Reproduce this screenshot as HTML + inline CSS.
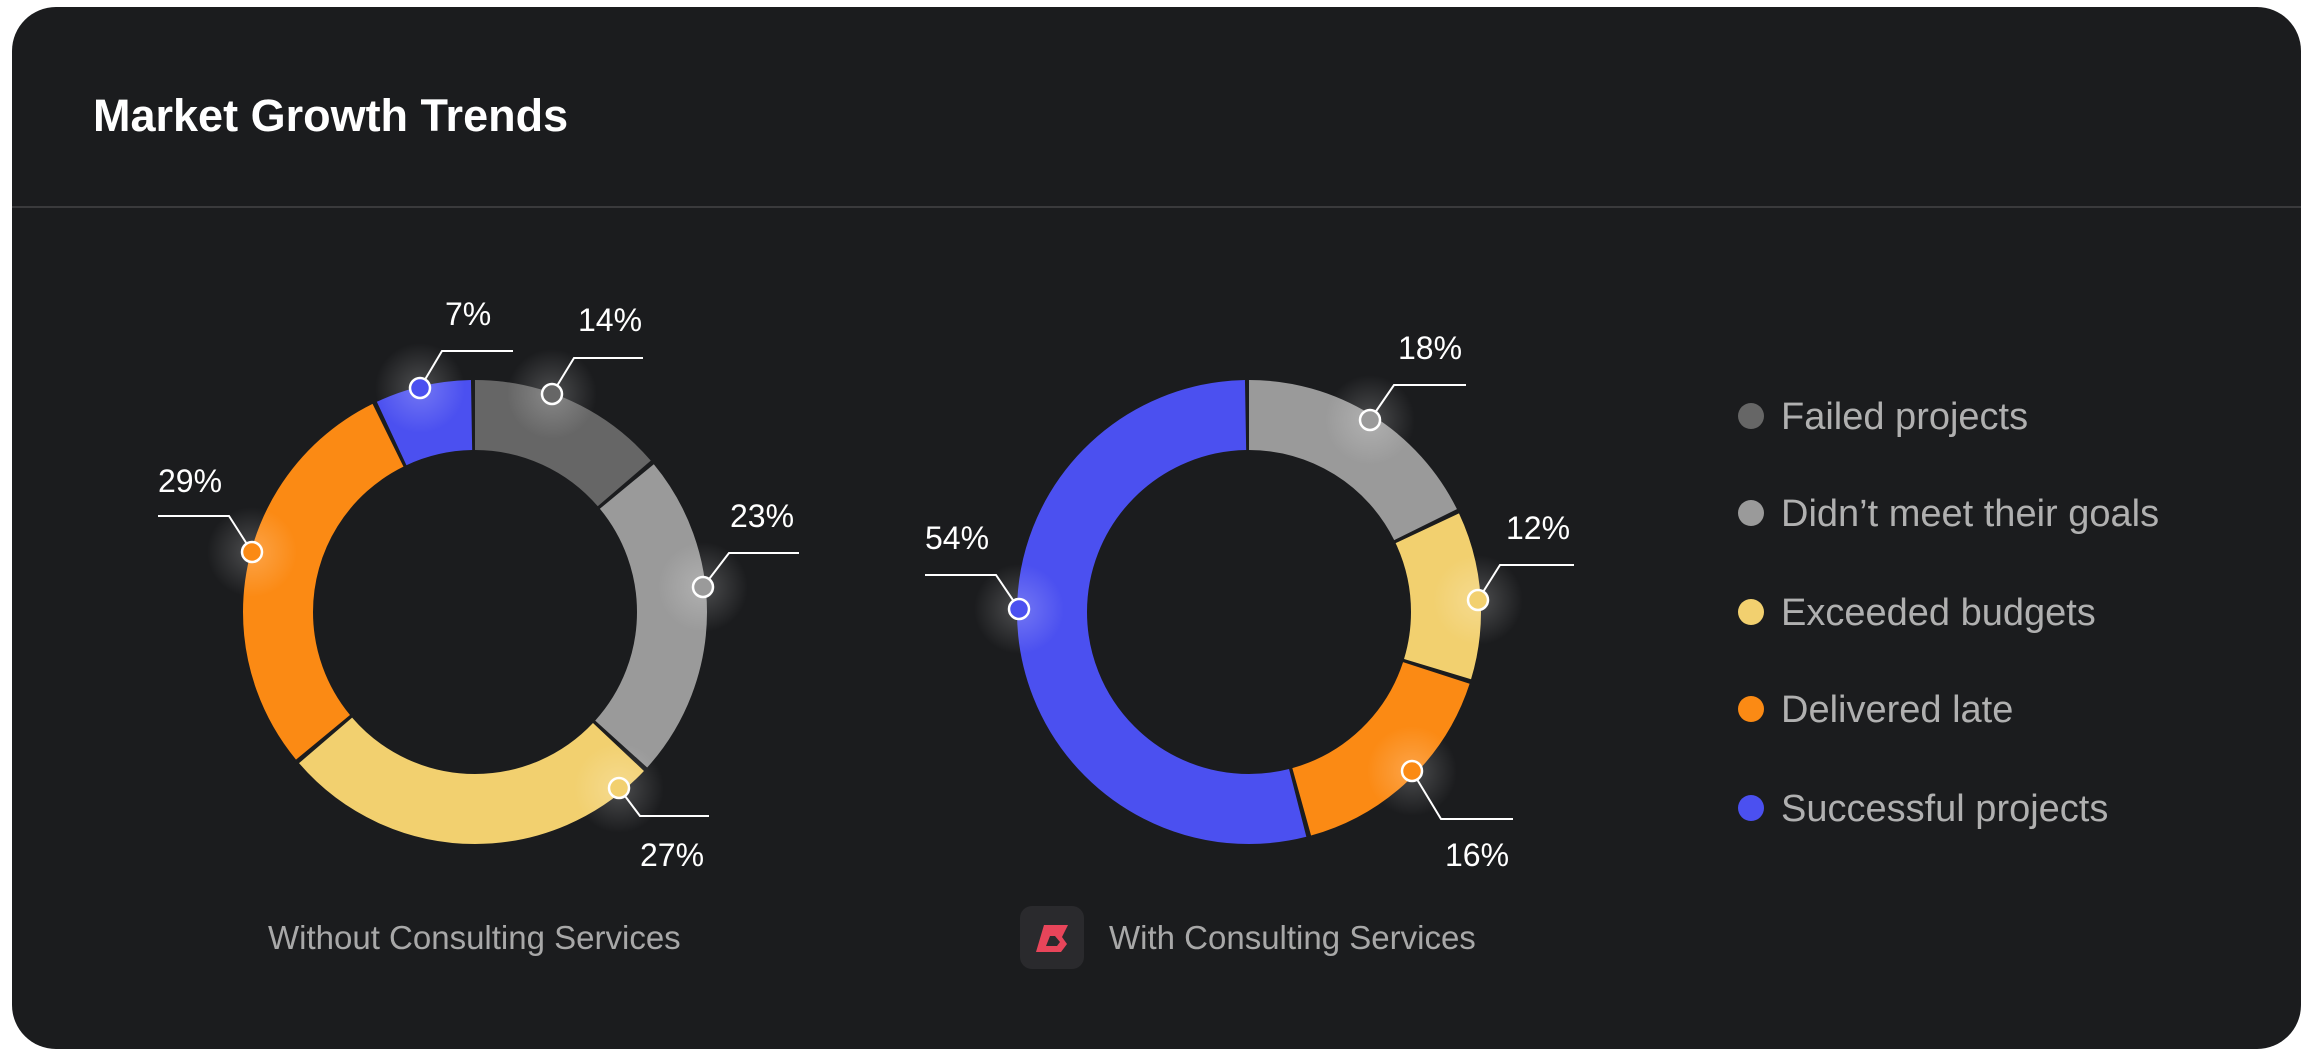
<!DOCTYPE html>
<html><head><meta charset="utf-8"><style>
html,body{margin:0;padding:0;background:#fff;width:2312px;height:1064px;overflow:hidden}
svg{display:block}
text{font-family:"Liberation Sans",sans-serif}
</style></head><body>
<svg width="2312" height="1064" viewBox="0 0 2312 1064" xmlns="http://www.w3.org/2000/svg">
<defs>
<radialGradient id="glow"><stop offset="0" stop-color="#fff" stop-opacity="0.22"/><stop offset="1" stop-color="#fff" stop-opacity="0"/></radialGradient>
</defs>
<rect x="0" y="0" width="2312" height="1064" fill="#ffffff"/>
<rect x="12" y="7" width="2289" height="1042" rx="44" fill="#1b1c1e"/>
<text x="93" y="131" font-size="45" font-weight="bold" fill="#ffffff">Market Growth Trends</text>
<rect x="12" y="206" width="2289" height="2" fill="#3a3a3c"/>

<g transform="translate(475,612) rotate(-90)" fill="none" stroke-width="70">
<circle r="197" stroke="#666666" stroke-dasharray="169.3 2000" stroke-dashoffset="0"/>
<circle r="197" stroke="#9a9a9a" stroke-dasharray="280.7 2000" stroke-dashoffset="-173.3"/>
<circle r="197" stroke="#f2d06f" stroke-dasharray="330.2 2000" stroke-dashoffset="-458.0"/>
<circle r="197" stroke="#fb8a14" stroke-dasharray="355.0 2000" stroke-dashoffset="-792.2"/>
<circle r="197" stroke="#4b50f0" stroke-dasharray="82.6 2000" stroke-dashoffset="-1151.2"/>
</g>
<g transform="translate(1249,612) rotate(-90)" fill="none" stroke-width="70">
<circle r="197" stroke="#9a9a9a" stroke-dasharray="218.8 2000" stroke-dashoffset="0"/>
<circle r="197" stroke="#f2d06f" stroke-dasharray="144.5 2000" stroke-dashoffset="-222.8"/>
<circle r="197" stroke="#fb8a14" stroke-dasharray="194.0 2000" stroke-dashoffset="-371.3"/>
<circle r="197" stroke="#4b50f0" stroke-dasharray="664.4 2000" stroke-dashoffset="-569.4"/>
</g>

<g fill="url(#glow)">
<circle cx="420" cy="388" r="45"/><circle cx="552" cy="394" r="45"/><circle cx="703" cy="587" r="45"/>
<circle cx="619" cy="788" r="45"/><circle cx="252" cy="552" r="45"/>
<circle cx="1370" cy="420" r="45"/><circle cx="1478" cy="600" r="45"/><circle cx="1412" cy="771" r="45"/><circle cx="1019" cy="609" r="45"/>
</g>

<g fill="none" stroke="#ffffff" stroke-width="2">
<polyline points="420,388 442,351 513,351"/>
<polyline points="552,394 574,358 643,358"/>
<polyline points="703,587 729,553 799,553"/>
<polyline points="619,788 640,816 709,816"/>
<polyline points="252,552 229,516 158,516"/>
<polyline points="1370,420 1394,385 1466,385"/>
<polyline points="1478,600 1500,565 1574,565"/>
<polyline points="1412,771 1441,819 1513,819"/>
<polyline points="1019,609 996,575 925,575"/>
</g>
<g stroke="#ffffff" stroke-width="2.5">
<circle cx="420" cy="388" r="10" fill="#4b50f0"/>
<circle cx="552" cy="394" r="10" fill="#666666"/>
<circle cx="703" cy="587" r="10" fill="#9a9a9a"/>
<circle cx="619" cy="788" r="10" fill="#f2d06f"/>
<circle cx="252" cy="552" r="10" fill="#fb8a14"/>
<circle cx="1370" cy="420" r="10" fill="#9a9a9a"/>
<circle cx="1478" cy="600" r="10" fill="#f2d06f"/>
<circle cx="1412" cy="771" r="10" fill="#fb8a14"/>
<circle cx="1019" cy="609" r="10" fill="#4b50f0"/>
</g>

<g font-size="32" fill="#ffffff">
<text x="445" y="325">7%</text>
<text x="578" y="331">14%</text>
<text x="730" y="527">23%</text>
<text x="640" y="866">27%</text>
<text x="158" y="492">29%</text>
<text x="1398" y="359">18%</text>
<text x="1506" y="539">12%</text>
<text x="1445" y="866">16%</text>
<text x="925" y="549">54%</text>
</g>

<g font-size="33" fill="#a8a8a8">
<text x="268" y="949">Without Consulting Services</text>
<text x="1109" y="949">With Consulting Services</text>
</g>
<rect x="1020" y="906" width="64" height="63" rx="12" fill="#2a2a2d"/>
<path d="M1044 925 L1068 925 L1062 937 L1067 944 L1061 952 L1036 952 Z M1046 946 L1057 946 L1060 942 L1055 936 L1050 936 Z" fill="#e8455a" fill-rule="evenodd"/>

<g>
<circle cx="1751" cy="416" r="13" fill="#666666"/>
<circle cx="1751" cy="513" r="13" fill="#9a9a9a"/>
<circle cx="1751" cy="612" r="13" fill="#f2d06f"/>
<circle cx="1751" cy="709" r="13" fill="#fb8a14"/>
<circle cx="1751" cy="808" r="13" fill="#4b50f0"/>
</g>
<g font-size="38" fill="#b0b0b0">
<text x="1781" y="429">Failed projects</text>
<text x="1781" y="526">Didn’t meet their goals</text>
<text x="1781" y="625">Exceeded budgets</text>
<text x="1781" y="722">Delivered late</text>
<text x="1781" y="821">Successful projects</text>
</g>
</svg>
</body></html>
